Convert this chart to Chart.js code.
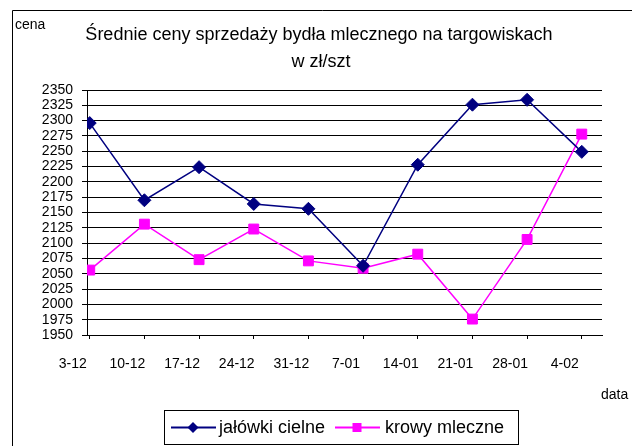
<!DOCTYPE html>
<html>
<head>
<meta charset="utf-8">
<script src="https://cdn.jsdelivr.net/npm/chart.js@4/dist/chart.umd.min.js"></script>
<style>
html,body{margin:0;padding:0;background:#fff;}
#wrap{width:632px;height:446px;position:relative;}
canvas{display:block;}
</style>
</head>
<body>
<div id="wrap"><canvas id="c" width="632" height="446"></canvas></div>
<script>
// ---- data ----
const categories = ["3-12","10-12","17-12","24-12","31-12","7-01","14-01","21-01","28-01","4-02"];
const jalowkiCielne = [2296, 2170, 2224, 2164, 2156, 2063, 2228, 2326, 2334, 2249];
const krowyMleczne = [2056, 2131, 2073, 2123, 2071, 2059, 2082, 1976, 2106, 2278];
const seriesNames = ["jałówki cielne", "krowy mleczne"];
const yTicks = [1950,1975,2000,2025,2050,2075,2100,2125,2150,2175,2200,2225,2250,2275,2300,2325,2350];
const titleLines = ["Średnie ceny sprzedaży bydła mlecznego na targowiskach", "w zł/szt"];
const yAxisTitle = "cena";
const xAxisTitle = "data";

const FONT = '"Liberation Sans", Arial, sans-serif';
Chart.defaults.font.family = FONT;
Chart.defaults.color = '#000';

const NAVY = '#000080';
const MAGENTA = '#FF00FF';

const toPoints = arr => arr.map((v, i) => ({x: i, y: v}));

const decor = {
  id: 'decor',
  afterDraw(chart) {
    const ctx = chart.ctx;
    ctx.save();
    // outer frame (left and top visible)
    ctx.strokeStyle = '#000';
    ctx.lineWidth = 1;
    ctx.beginPath();
    ctx.moveTo(12.5, 446);
    ctx.lineTo(12.5, 10.5);
    ctx.lineTo(632, 10.5);
    ctx.stroke();

    ctx.fillStyle = '#000';
    ctx.textBaseline = 'alphabetic';
    // axis titles
    ctx.font = '14px ' + FONT;
    ctx.textAlign = 'left';
    ctx.fillText(yAxisTitle, 15, 29);
    ctx.fillText(xAxisTitle, 601, 399);
    // chart title
    ctx.font = '18px ' + FONT;
    ctx.textAlign = 'center';
    ctx.fillText(titleLines[0], 319, 40);
    ctx.fillText(titleLines[1], 321, 67);

    // legend
    ctx.strokeStyle = '#000';
    ctx.lineWidth = 1;
    ctx.strokeRect(164.5, 410.5, 354, 34);
    const ds = chart.data.datasets;
    const items = [
      {x0: 171, x1: 216, mx: 193, tx: 219, d: ds[0]},
      {x0: 335, x1: 380, mx: 357, tx: 385, d: ds[1]}
    ];
    const ly = 427.5;
    items.forEach(it => {
      ctx.strokeStyle = it.d.borderColor;
      ctx.lineWidth = 2;
      ctx.beginPath();
      ctx.moveTo(it.x0, ly);
      ctx.lineTo(it.x1, ly);
      ctx.stroke();
      ctx.fillStyle = it.d.pointBackgroundColor;
      ctx.beginPath();
      if (it.d.pointStyle === 'rectRot') {
        const r = 5.5;
        ctx.moveTo(it.mx, ly - r);
        ctx.lineTo(it.mx + r, ly);
        ctx.lineTo(it.mx, ly + r);
        ctx.lineTo(it.mx - r, ly);
        ctx.closePath();
      } else {
        ctx.rect(it.mx - 4.5, ly - 4.5, 9, 9);
      }
      ctx.fill();
      ctx.fillStyle = '#000';
      ctx.font = '18px ' + FONT;
      ctx.textAlign = 'left';
      ctx.textBaseline = 'middle';
      ctx.fillText(it.d.label, it.tx, ly + 1);
    });
    ctx.restore();
  }
};

new Chart(document.getElementById('c'), {
  type: 'line',
  data: {
    datasets: [
      {
        label: seriesNames[0],
        data: toPoints(jalowkiCielne),
        borderColor: NAVY,
        backgroundColor: NAVY,
        pointBackgroundColor: NAVY,
        pointBorderColor: NAVY,
        pointStyle: 'rectRot',
        pointRadius: 6.5,
        pointBorderWidth: 1,
        borderWidth: 1.5,
        tension: 0
      },
      {
        label: seriesNames[1],
        data: toPoints(krowyMleczne),
        borderColor: MAGENTA,
        backgroundColor: MAGENTA,
        pointBackgroundColor: MAGENTA,
        pointBorderColor: MAGENTA,
        pointStyle: 'rect',
        pointRadius: 7,
        pointBorderWidth: 1,
        borderWidth: 1.5,
        tension: 0
      }
    ]
  },
  options: {
    responsive: false,
    animation: false,
    events: [],
    layout: { padding: { top: 90, left: 12, right: 30, bottom: 0 } },
    plugins: { legend: { display: false }, title: { display: false }, tooltip: { enabled: false } },
    scales: {
      x: {
        type: 'linear',
        min: -0.05,
        max: 9.37,
        afterFit(scale) { scale.height = 111; },
        afterBuildTicks(scale) { scale.ticks = categories.map((_, i) => ({value: i})); },
        grid: { drawOnChartArea: false, drawTicks: true, tickLength: 4, color: '#000', lineWidth: 1 },
        border: { display: true, color: '#000', width: 1 },
        ticks: {
          autoSkip: false,
          maxRotation: 0,
          minRotation: 0,
          labelOffset: -17,
          padding: 17,
          font: { size: 14 },
          color: '#000',
          callback: (v) => categories[v] !== undefined ? categories[v] : ''
        }
      },
      y: {
        min: yTicks[0],
        max: yTicks[yTicks.length - 1],
        afterFit(scale) { scale.width = 75; },
        afterBuildTicks(scale) { scale.ticks = yTicks.map(v => ({value: v})); },
        grid: { drawOnChartArea: true, drawTicks: true, tickLength: 5, color: '#000', lineWidth: 1 },
        border: { display: true, color: '#000', width: 1 },
        ticks: {
          autoSkip: false,
          padding: 9,
          font: { size: 14, lineHeight: 1 },
          color: '#000',
          callback: (v) => String(v)
        }
      }
    }
  },
  plugins: [decor]
});
</script>
</body>
</html>
